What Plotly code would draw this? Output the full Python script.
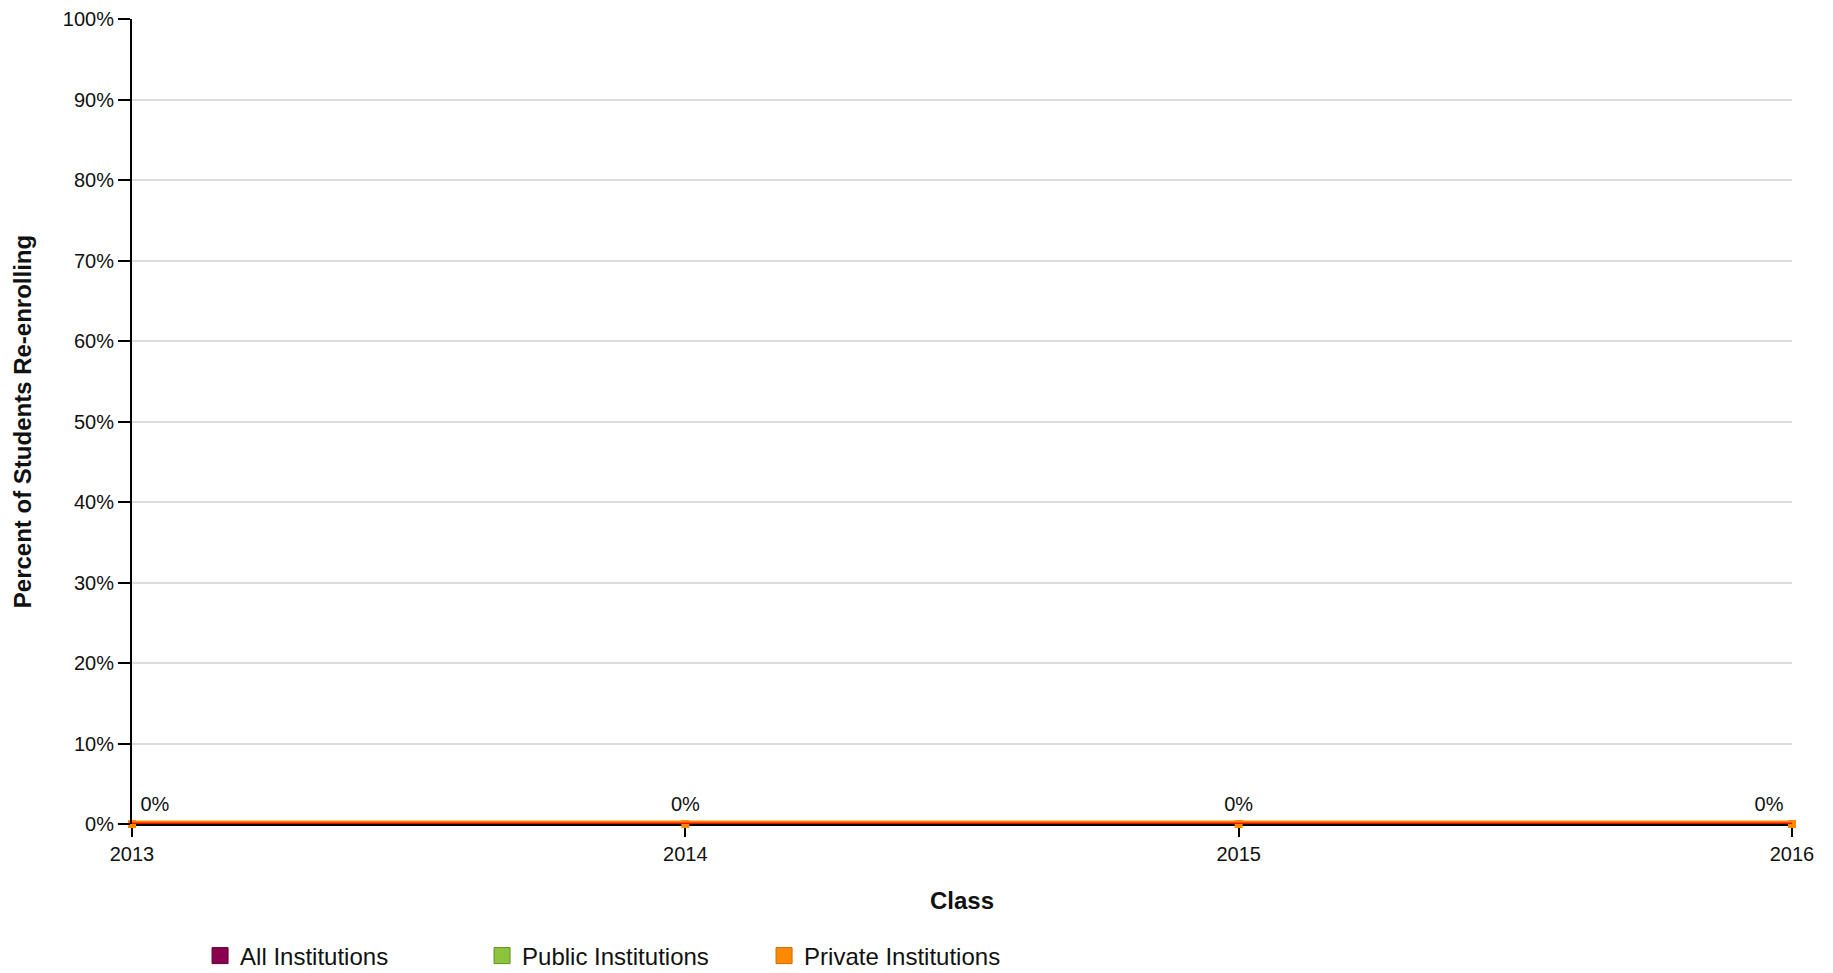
import plotly.graph_objects as go

classes = [2013, 2014, 2015, 2016]
all_inst = [0, 0, 0, 0]
public_inst = [0, 0, 0, 0]
private_inst = [0, 0, 0, 0]
series_names = ["All Institutions", "Public Institutions", "Private Institutions"]
series_colors = ["#8c0050", "#8cc43c", "#ff8a00"]
series_borders = ["#5c0034", "#5f8f22", "#c86a00"]
y_ticks = list(range(0, 101, 10))

label_text = [f"{v:.0f}%" for v in all_inst]
label_pos = ["top right", "top center", "top center", "top left"]

FONT = "Liberation Sans, Arial, Helvetica, sans-serif"

fig = go.Figure()

fig.add_trace(go.Scatter(x=classes, y=all_inst, mode="lines", line=dict(color=series_colors[0], width=3),
                         showlegend=False, cliponaxis=False, name=series_names[0]))
fig.add_trace(go.Scatter(x=classes, y=public_inst, mode="lines", line=dict(color=series_colors[1], width=3),
                         showlegend=False, cliponaxis=False, name=series_names[1]))
fig.add_trace(go.Scatter(x=classes, y=private_inst, mode="lines+markers",
                         line=dict(color=series_colors[2], width=7),
                         marker=dict(symbol="square", size=8, color=series_colors[2]),
                         showlegend=False, cliponaxis=False, name=series_names[2]))
fig.add_trace(go.Scatter(x=classes, y=private_inst, mode="lines+markers+text",
                         line=dict(color="#ee1100", width=3),
                         marker=dict(size=12, opacity=0),
                         text=label_text, textposition=label_pos,
                         textfont=dict(family=FONT, size=20, color="#111111"),
                         showlegend=False, cliponaxis=False, hoverinfo="skip"))

for name, col, bcol in zip(series_names, series_colors, series_borders):
    fig.add_trace(go.Scatter(x=[None], y=[None], mode="markers", name=name,
                             marker=dict(symbol="square", size=16, color=col,
                                         line=dict(color=bcol, width=1))))

fig.update_layout(
    template="none",
    width=1833, height=973,
    margin=dict(l=124, r=49, t=11, b=157, autoexpand=False),
    paper_bgcolor="white", plot_bgcolor="white",
    font=dict(family=FONT, size=20, color="#111111"),
    showlegend=True,
    legend=dict(orientation="h", x=0.041, xanchor="left", y=-0.164, yanchor="middle",
                entrywidth=237, entrywidthmode="pixels",
                font=dict(family=FONT, size=24, color="#111111"),
                bgcolor="rgba(0,0,0,0)"),
    xaxis=dict(range=[2013, 2016], tickvals=classes, ticktext=[str(c) for c in classes],
               automargin=False, layer="below traces",
               showgrid=False, zeroline=False, showline=True, linecolor="black", linewidth=2,
               ticks="outside", ticklen=11, tickwidth=2, tickcolor="black",
               tickfont=dict(family=FONT, size=20, color="#111111"),
               title=dict(text="<b>Class</b>", standoff=28,
                          font=dict(family=FONT, size=24, color="#111111"))),
    yaxis=dict(range=[0, 100], tickvals=y_ticks, ticktext=[f"{t}%" for t in y_ticks],
               automargin=False,
               showgrid=True, gridcolor="#dcdcdc", gridwidth=2, zeroline=False,
               showline=True, linecolor="black", linewidth=2,
               ticks="outside", ticklen=12, tickwidth=2, tickcolor="black",
               tickfont=dict(family=FONT, size=20, color="#111111"),
               title=dict(text="<b>Percent of Students Re-enrolling</b>", standoff=24,
                          font=dict(family=FONT, size=24, color="#111111"))),
)

fig.write_html("out.html")
